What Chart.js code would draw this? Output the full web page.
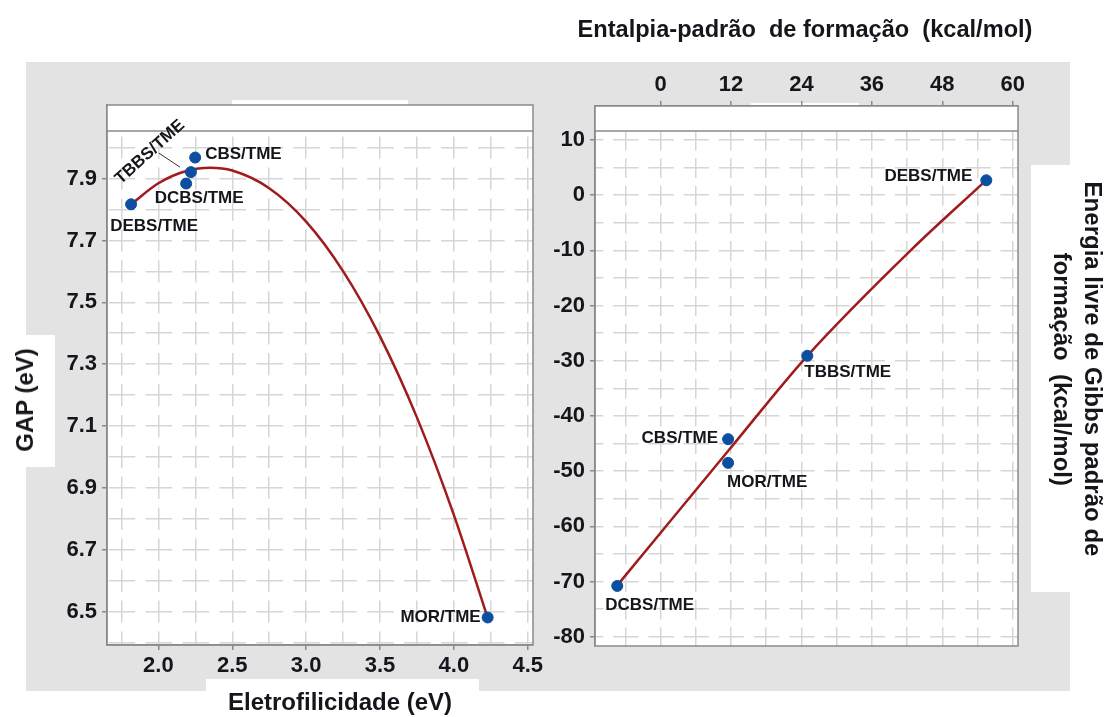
<!DOCTYPE html>
<html>
<head>
<meta charset="utf-8">
<script src="https://cdn.jsdelivr.net/npm/chart.js@4.4.0/dist/chart.umd.min.js"></script>
<style>
  html, body { margin: 0; padding: 0; background: #fff; }
  #stage { position: relative; width: 1105px; height: 717px; overflow: hidden;
           font-family: "Liberation Sans", Arial, sans-serif; color: #14161c; }
  .panel { position: absolute; left: 26px; top: 62px; width: 1044px; height: 629px; background: #e3e3e3; }
  .patch { position: absolute; background: #fff; }
  canvas { position: absolute; top: 0; }
  .ttl { position: absolute; font-weight: bold; white-space: pre; transform-origin: center center; }
</style>
</head>
<body>
<div id="stage">
  <div class="panel"></div>
  <div class="patch" style="left:0;top:335px;width:55px;height:132px"></div>
  <div class="patch" style="left:206px;top:679px;width:273px;height:40px"></div>
  <div class="patch" style="left:1031px;top:165px;width:74px;height:427px"></div>
  <div class="patch" style="left:232px;top:100px;width:176px;height:6px"></div>
  <div class="patch" style="left:751px;top:103px;width:108px;height:4px"></div>

  <canvas id="gapChart" width="560" height="717" style="left:0"></canvas>
  <canvas id="energyChart" width="575" height="717" style="left:530px"></canvas>

  <div class="ttl" style="left:25px;top:400px;font-size:24px;transform:translate(-50%,-50%) rotate(-90deg)">GAP (eV)</div>
  <div class="ttl" style="left:340px;top:702px;font-size:24px;transform:translate(-50%,-50%)">Eletrofilicidade (eV)</div>
  <div class="ttl" style="left:805px;top:29px;font-size:23.6px;transform:translate(-50%,-50%)">Entalpia-padrão  de formação  (kcal/mol)</div>
  <div class="ttl" style="left:1077px;top:369px;font-size:24px;line-height:30.5px;writing-mode:vertical-rl;text-align:center;transform:translate(-50%,-50%)">Energia livre de Gibbs padrão de<br>formação  (kcal/mol)</div>
</div>

<script>
// Compounds, in the same order for both panels
const compounds = ['DEBS/TME', 'TBBS/TME', 'DCBS/TME', 'CBS/TME', 'MOR/TME'];

// Left panel: electrophilicity (eV) vs HOMO-LUMO gap (eV)
const electrophilicity = [1.815, 2.220, 2.188, 2.249, 4.229];
const gapValues        = [7.817, 7.921, 7.884, 7.968, 6.481];
// Fitted trend curve, read along its path
const gapCurveX = [1.815, 2.0, 2.2, 2.35, 2.5, 2.75, 3.0, 3.25, 3.5, 3.75, 4.0, 4.229];
const gapCurveY = [7.817, 7.885, 7.926, 7.935, 7.926, 7.869, 7.761, 7.601, 7.390, 7.128, 6.813, 6.480];

// Right panel: standard enthalpy of formation vs standard Gibbs energy of formation (kcal/mol)
const enthalpy = [55.5, 25.0, -7.39, 11.5, 11.5];
const gibbs    = [2.7, -29.1, -70.8, -44.2, -48.5];
// Fitted trend line, read along its path
const gibbsLineX = [-6.93, 11.46, 25.0, 42.7, 54.9];
const gibbsLineY = [-70.1, -46.4, -29.1, -9.9, 2.15];

// Labelled tick values
const electroTicks  = [2.0, 2.5, 3.0, 3.5, 4.0, 4.5];
const gapTicks      = [6.5, 6.7, 6.9, 7.1, 7.3, 7.5, 7.7, 7.9];
const enthalpyTicks = [0, 12, 24, 36, 48, 60];
const gibbsTicks    = [10, 0, -10, -20, -30, -40, -50, -60, -70, -80];

Chart.defaults.font.family = "'Liberation Sans', Arial, sans-serif";

const GRID = '#d6d6d6';
const FRAME = '#8a8a8a';
const TEXT = '#14161c';
const POINT = '#0c4ea0';
const FIT = '#a01c1c';

const near = (list, v) => list.some(t => Math.abs(t - v) < 1e-6);

// Dashed grid: each dash is centred on the crossing grid lines, giving the "+" pattern
function gap(s) {
  const g = Math.abs(s.getPixelForTick(1) - s.getPixelForTick(0));
  return isFinite(g) && g > 0 ? g : 30;
}
function dashFor(otherId) {
  return ctx => { const s = ctx.chart.scales[otherId]; const p = s ? gap(s) : 30; return [p * 0.72, p * 0.28]; };
}
function dashOffsetFor(otherId, horizontal) {
  return ctx => {
    const a = ctx.chart.chartArea; const s = ctx.chart.scales[otherId];
    if (!a || !s) return 0;
    const p = gap(s), L = p * 0.72;
    const start = horizontal ? a.left : a.top;
    const s0 = s.getPixelForTick(0) - L / 2 - start;
    if (!isFinite(s0)) return 0;
    return ((-s0 % p) + p) % p;
  };
}

function zeroPadding(s) { s.paddingLeft = 0; s.paddingRight = 0; s.paddingTop = 0; s.paddingBottom = 0; }

// White plot area, the empty band along the top, and the box frame
const framePlugin = {
  id: 'frame',
  beforeDraw(chart) {
    const { ctx, chartArea: a } = chart;
    ctx.save(); ctx.fillStyle = '#fff';
    ctx.fillRect(a.left, a.top, a.right - a.left, a.bottom - a.top);
    ctx.restore();
  },
  beforeDatasetsDraw(chart, args, o) {
    const { ctx, chartArea: a } = chart;
    ctx.save();
    ctx.fillStyle = '#fff';
    ctx.fillRect(a.left, a.top, a.right - a.left, o.band);
    ctx.strokeStyle = FRAME; ctx.lineWidth = 1.5;
    ctx.beginPath(); ctx.moveTo(a.left, a.top + o.band); ctx.lineTo(a.right, a.top + o.band); ctx.stroke();
    ctx.strokeRect(a.left, a.top, a.right - a.left, a.bottom - a.top);
    ctx.restore();
  }
};

// Compound names next to their points
const namePlugin = {
  id: 'names',
  afterDatasetsDraw(chart, args, o) {
    const meta = chart.getDatasetMeta(o.dataset);
    const ctx = chart.ctx;
    ctx.save();
    ctx.font = 'bold 17px "Liberation Sans", Arial, sans-serif';
    ctx.fillStyle = TEXT;
    ctx.textBaseline = 'middle';
    meta.data.forEach((el, i) => {
      const p = o.place[i];
      if (p.leader) {
        ctx.strokeStyle = '#333'; ctx.lineWidth = 1;
        ctx.beginPath();
        ctx.moveTo(el.x + p.leader[0], el.y + p.leader[1]);
        ctx.lineTo(el.x + p.leader[2], el.y + p.leader[3]);
        ctx.stroke();
      }
      ctx.save();
      ctx.translate(el.x + p.dx, el.y + p.dy);
      ctx.rotate((p.rot || 0) * Math.PI / 180);
      ctx.textAlign = p.align;
      ctx.fillText(compounds[i], 0, 0);
      ctx.restore();
    });
    ctx.restore();
  }
};

const tickFont = { size: 22, weight: 'bold' };

new Chart(document.getElementById('gapChart'), {
  type: 'scatter',
  data: {
    datasets: [
      {
        type: 'line', showLine: true,
        data: gapCurveX.map((x, i) => ({ x, y: gapCurveY[i] })),
        borderColor: FIT, borderWidth: 2.5, pointRadius: 0, fill: false,
        cubicInterpolationMode: 'monotone', order: 2
      },
      {
        data: electrophilicity.map((x, i) => ({ x, y: gapValues[i] })),
        backgroundColor: POINT, borderColor: POINT, pointRadius: 5.5, order: 1
      }
    ]
  },
  options: {
    responsive: false, animation: false, events: [],
    layout: { padding: { top: 105, right: 27, bottom: 0, left: 0 } },
    plugins: {
      legend: { display: false }, tooltip: { enabled: false },
      frame: { band: 26 },
      names: {
        dataset: 1,
        place: [
          { dx: 23, dy: 22, align: 'center' },
          { dx: -41, dy: -20, align: 'center', rot: -42, leader: [-32, -19, -11, -5] },
          { dx: 13, dy: 15, align: 'center' },
          { dx: 10, dy: -3, align: 'left' },
          { dx: -7, dy: 0, align: 'right' }
        ]
      }
    },
    scales: {
      x: {
        type: 'linear', position: 'bottom', min: 1.652, max: 4.536,
        afterFit(s) { s.height = 72; zeroPadding(s); },
        ticks: {
          stepSize: 0.25, includeBounds: false, autoSkip: false, maxRotation: 0, minRotation: 0,
          padding: 3, color: TEXT, font: tickFont,
          callback: v => near(electroTicks, v) ? v.toFixed(1) : ''
        },
        grid: { color: GRID, lineWidth: 1.5, tickLength: 5,
                tickColor: c => near(electroTicks, c.tick.value) ? FRAME : 'rgba(0,0,0,0)' },
        border: { display: true, color: FRAME, width: 1.5, dash: dashFor('y'), dashOffset: dashOffsetFor('y', false) }
      },
      y: {
        type: 'linear', position: 'left', min: 6.392, max: 8.138,
        afterFit(s) { s.width = 107; zeroPadding(s); },
        ticks: {
          stepSize: 0.1, includeBounds: false, autoSkip: false,
          padding: 5, color: TEXT, font: tickFont,
          callback: v => near(gapTicks, v) ? v.toFixed(1) : ''
        },
        grid: { color: GRID, lineWidth: 1.5, tickLength: 5,
                tickColor: c => near(gapTicks, c.tick.value) ? FRAME : 'rgba(0,0,0,0)' },
        border: { display: true, color: FRAME, width: 1.5, dash: dashFor('x'), dashOffset: dashOffsetFor('x', true) }
      }
    }
  },
  plugins: [framePlugin, namePlugin]
});

new Chart(document.getElementById('energyChart'), {
  type: 'scatter',
  data: {
    datasets: [
      {
        type: 'line', showLine: true,
        data: gibbsLineX.map((x, i) => ({ x, y: gibbsLineY[i] })),
        borderColor: FIT, borderWidth: 2.5, pointRadius: 0, fill: false,
        cubicInterpolationMode: 'monotone', order: 2
      },
      {
        data: enthalpy.map((x, i) => ({ x, y: gibbs[i] })),
        backgroundColor: POINT, borderColor: POINT, pointRadius: 5.5, order: 1
      }
    ]
  },
  options: {
    responsive: false, animation: false, events: [],
    layout: { padding: { top: 0, right: 87, bottom: 71, left: 0 } },
    plugins: {
      legend: { display: false }, tooltip: { enabled: false },
      frame: { band: 25 },
      names: {
        dataset: 1,
        place: [
          { dx: -14, dy: -4, align: 'right' },
          { dx: -3, dy: 17, align: 'left' },
          { dx: -12, dy: 19, align: 'left' },
          { dx: -10, dy: -1, align: 'right' },
          { dx: -1, dy: 19, align: 'left' }
        ]
      }
    },
    scales: {
      x: {
        type: 'linear', position: 'top', min: -11.18, max: 60.9,
        afterFit(s) { s.height = 106; zeroPadding(s); },
        ticks: {
          stepSize: 6, includeBounds: false, autoSkip: false, maxRotation: 0, minRotation: 0,
          padding: 3, color: TEXT, font: tickFont,
          callback: v => near(enthalpyTicks, v) ? String(v) : ''
        },
        grid: { color: GRID, lineWidth: 1.5, tickLength: 5,
                tickColor: c => near(enthalpyTicks, c.tick.value) ? FRAME : 'rgba(0,0,0,0)' },
        border: { display: true, color: FRAME, width: 1.5, dash: dashFor('y'), dashOffset: dashOffsetFor('y', false) }
      },
      y: {
        type: 'linear', position: 'left', min: -81.68, max: 16.16,
        afterFit(s) { s.width = 65; zeroPadding(s); },
        ticks: {
          stepSize: 5, includeBounds: false, autoSkip: false,
          padding: 5, color: TEXT, font: tickFont,
          callback: v => near(gibbsTicks, v) ? String(v) : ''
        },
        grid: { color: GRID, lineWidth: 1.5, tickLength: 5,
                tickColor: c => near(gibbsTicks, c.tick.value) ? FRAME : 'rgba(0,0,0,0)' },
        border: { display: true, color: FRAME, width: 1.5, dash: dashFor('x'), dashOffset: dashOffsetFor('x', true) }
      }
    }
  },
  plugins: [framePlugin, namePlugin]
});
</script>
</body>
</html>
